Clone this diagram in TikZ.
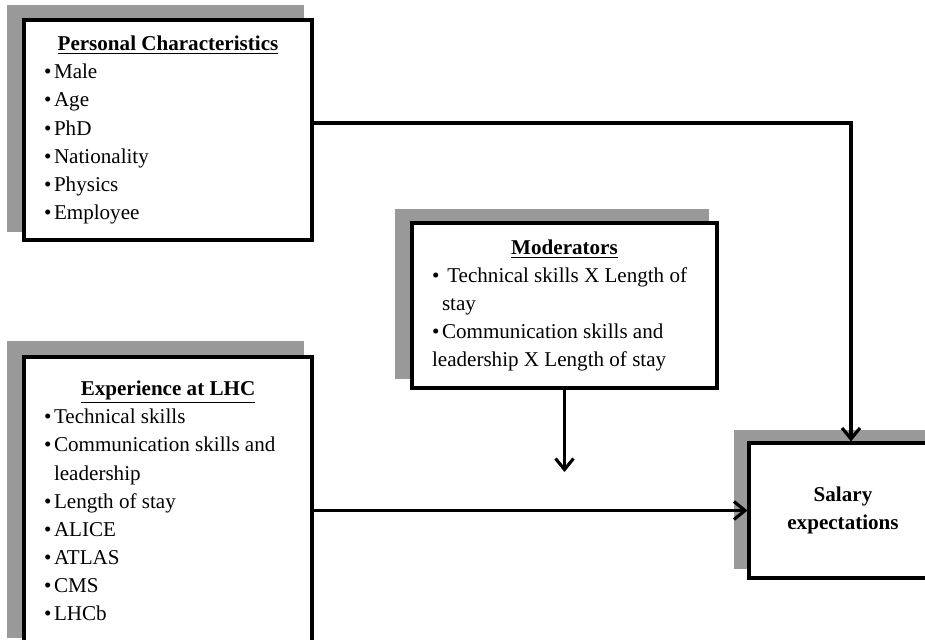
\documentclass[tikz,border=0pt]{standalone}
\usepackage{fontspec}
\setmainfont{Liberation Serif}
\usetikzlibrary{arrows.meta,shadows}

\newcommand{\bitem}[1]{\par\hangindent=0.2cm\hangafter=1\noindent\makebox[0.2cm][l]{\textbullet}#1}
\newcommand{\boxtitle}[1]{{\centering\underline{\textbf{#1}}\par}}

\tikzstyle{factor} = [rectangle, draw=black, line width=1.8pt, fill=white, inner xsep=0.4cm, inner ysep=0pt, align=flush left, font=\fontsize{12}{16}\selectfont, general shadow={fill=black!40, shadow scale=1.03, shadow xshift=-0.24cm, shadow yshift=0.22cm}]
\tikzstyle{outcome} = [factor, align=flush center, font=\fontsize{12}{16}\selectfont\bfseries]
\tikzstyle{flow} = [line width=1.8pt, -{Straight Barb[length=0.22cm,width=0.36cm]}]

\begin{document}
\begin{tikzpicture}[x=0.02cm, y=-0.02cm]
      \useasboundingbox (0,0) rectangle (925,639);
      \clip (0,0) rectangle (925,639);

      \node (pers) [factor, text width=4.96cm, minimum height=4.4cm] at (168,130) {\boxtitle{Personal Characteristics}\bitem{Male}\bitem{Age}\bitem{PhD}\bitem{Nationality}\bitem{Physics}\bitem{Employee}};
      \node (modr) [factor, text width=5.3cm, minimum height=3.3cm] at (564.5,305.5) {\boxtitle{Moderators}\bitem{\ Technical skills X Length of\newline stay}\bitem{Communication skills and\newline leadership X Length of stay}};
      \node (expr) [factor, text width=4.96cm, minimum height=5.76cm] at (168,501) {\boxtitle{Experience at LHC}\bitem{Technical skills}\bitem{Communication skills and\newline leadership}\bitem{Length of stay}\bitem{ALICE}\bitem{ATLAS}\bitem{CMS}\bitem{LHCb}};
      \node (sal) [outcome, text width=2.96cm, minimum height=2.7cm] at (843,510.5) {Salary\\expectations};
      \coordinate (modend) at (564.5,472);

      \draw [flow] ([yshift=0.14cm]pers.east) -| ([xshift=0.16cm]sal.north);
      \draw [flow] (expr.east |- sal.west) -- (sal.west);
      \draw [flow] (modr.south) -- (modend);
    \end{tikzpicture}
\end{document}
